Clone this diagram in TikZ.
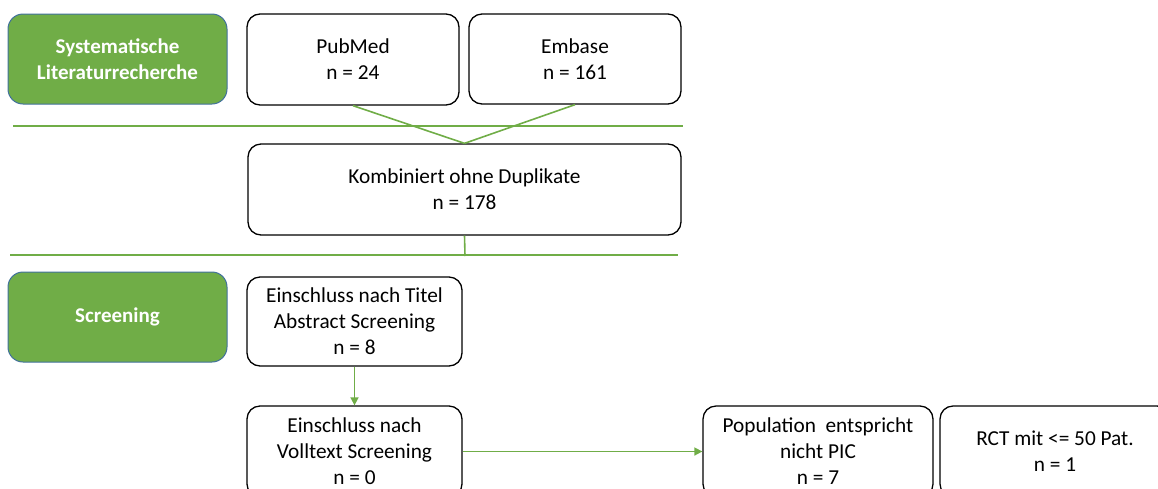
\documentclass[tikz,border=0pt]{standalone}
\usepackage{fontspec}
\setmainfont{Carlito}
\usetikzlibrary{arrows.meta}
\definecolor{phasegreen}{HTML}{70AD47}
\definecolor{phaseborder}{HTML}{41719C}
\definecolor{linkgreen}{HTML}{70AD47}
\begin{document}
\begin{tikzpicture}[x=1pt,y=-1pt,
  phase/.style={draw=phaseborder, line width=1pt, fill=phasegreen, rounded corners=15pt,
    minimum width=219pt, minimum height=90pt, inner sep=0pt, text width=215pt, align=center,
    text=white, font=\fontsize{21}{26}\selectfont\bfseries},
  stepbox/.style={draw=black, line width=1.3pt, fill=white, rounded corners=13pt,
    inner sep=0pt, align=center, font=\fontsize{21.3}{26}\selectfont},
  link/.style={draw=linkgreen, line width=1.6pt},
  arrowlink/.style={link, -{Triangle[length=8pt,width=8pt]}}
]
\useasboundingbox (0,0) rectangle (1158,488);
\clip (0,0) rectangle (1158,488);

% phase labels on the left
\node[phase] (g1) at (117.5,59) {Systematische\\Literaturrecherche};
\node[phase] (g2) at (117.5,317) {Screening};

% search sources
\node[stepbox, minimum width=212pt, minimum height=91pt] (pub) at (353,59.5) {PubMed\\n = 24};
\node[stepbox, minimum width=212pt, minimum height=90pt] (emb) at (575,59) {Embase\\n = 161};
\node[stepbox, minimum width=433pt, minimum height=91pt] (komb) at (464.5,189.5) {Kombiniert ohne Duplikate\\n = 178};

% screening steps
\node[stepbox, minimum width=215pt, minimum height=89pt] (titel) at (354.5,321.5) {Einschluss nach Titel\\Abstract Screening\\n = 8};
\node[stepbox, minimum width=215pt, minimum height=91pt] (voll) at (354.5,451.5) {Einschluss nach\\Volltext Screening\\n = 0};
\node[stepbox, minimum width=230pt, minimum height=91pt] (pop) at (818,451.5) {Population~ entspricht\\nicht PIC\\n = 7};
\node[stepbox, minimum width=230pt, minimum height=91pt] (rct) at (1055,451.5) {RCT mit <= 50 Pat.\\n = 1};

% phase separators
\coordinate (sepA1) at (13,126);
\coordinate (sepA2) at (683,126);
\coordinate (sepB1) at (10,255);
\coordinate (sepB2) at (678,255);
\coordinate (sepBhit) at (465,256);
\draw[link] (sepA1) -- (sepA2);
\draw[link] (sepB1) -- (sepB2);

% connectors
\draw[link] (pub.south) -- (komb.north);
\draw[link] (emb.south) -- (komb.north);
\draw[link] (komb.south) -- (sepBhit);
\draw[arrowlink] (titel.south) -- (voll.north);
\draw[arrowlink] (voll.east) -- (pop.west);
\end{tikzpicture}
\end{document}
